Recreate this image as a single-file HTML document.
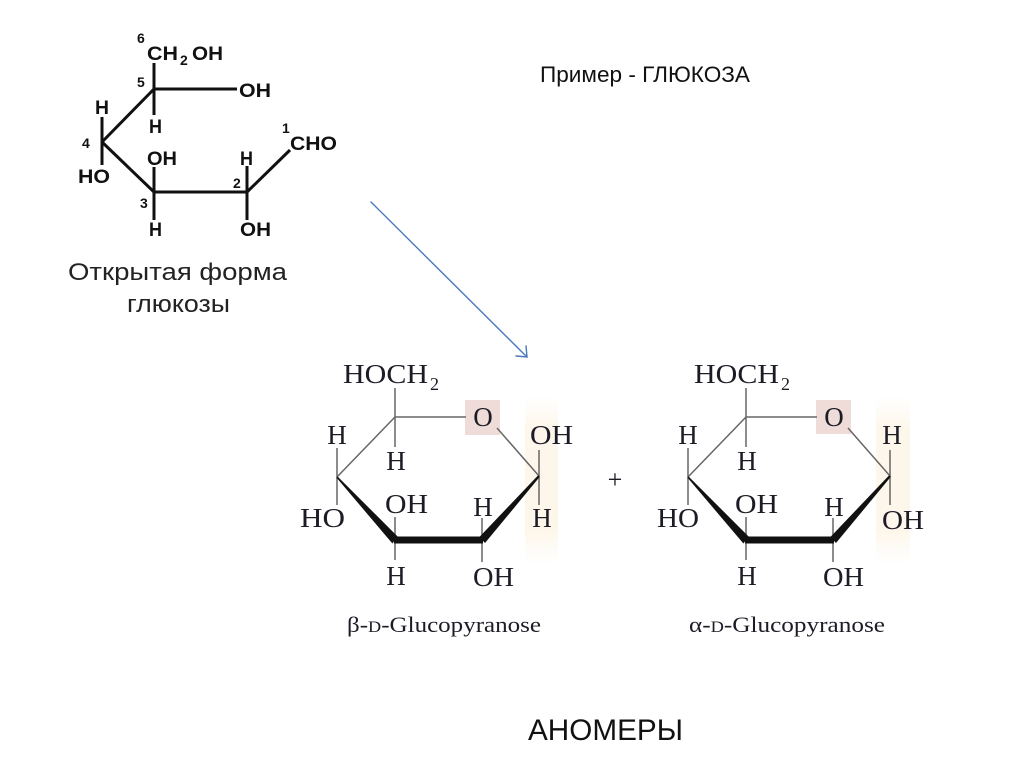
<!DOCTYPE html>
<html>
<head>
<meta charset="utf-8">
<style>
  html,body{margin:0;padding:0;background:#fff;}
  body{width:1024px;height:767px;overflow:hidden;}
  svg{display:block;}
  .sf{font-family:"Liberation Serif","DejaVu Serif",serif;fill:#1c1c26;}
  .bs{font-family:"Liberation Sans","DejaVu Sans",sans-serif;font-weight:bold;fill:#111;}
  .ss{font-family:"Liberation Sans","DejaVu Sans",sans-serif;}
</style>
</head>
<body>
<svg width="1024" height="767" viewBox="0 0 1024 767" xmlns="http://www.w3.org/2000/svg">
  <defs>
    <linearGradient id="beige" x1="0" y1="0" x2="0" y2="1">
      <stop offset="0" stop-color="#fefaf2" stop-opacity="0"/>
      <stop offset="0.2" stop-color="#fdf6ea"/>
      <stop offset="0.8" stop-color="#fdf6ea"/>
      <stop offset="1" stop-color="#fefaf2" stop-opacity="0"/>
    </linearGradient>
  </defs>

  <!-- ================= OPEN FORM ================= -->
  <g stroke="#111" stroke-width="3" stroke-linecap="butt" fill="none">
    <line x1="154" y1="63" x2="154" y2="115"/>
    <line x1="154" y1="89" x2="237" y2="89"/>
    <line x1="154" y1="89" x2="102" y2="142"/>
    <line x1="102" y1="117" x2="102" y2="165"/>
    <line x1="102" y1="142" x2="154" y2="192"/>
    <line x1="154" y1="167" x2="154" y2="220"/>
    <line x1="153" y1="192" x2="248" y2="192"/>
    <line x1="247" y1="166" x2="247" y2="220"/>
    <line x1="247" y1="192" x2="290" y2="150"/>
  </g>
  <g class="bs">
    <text x="137" y="43" font-size="14">6</text>
    <text x="147" y="60" font-size="19" textLength="31" lengthAdjust="spacingAndGlyphs">CH</text>
    <text x="180" y="65" font-size="14">2</text>
    <text x="192" y="60" font-size="19" textLength="31" lengthAdjust="spacingAndGlyphs">OH</text>
    <text x="137" y="87" font-size="14">5</text>
    <text x="239" y="97" font-size="19" textLength="32" lengthAdjust="spacingAndGlyphs">OH</text>
    <text x="149" y="133" font-size="19" textLength="13" lengthAdjust="spacingAndGlyphs">H</text>
    <text x="95" y="114" font-size="19" textLength="14" lengthAdjust="spacingAndGlyphs">H</text>
    <text x="82" y="148" font-size="14">4</text>
    <text x="78" y="183" font-size="19" textLength="32" lengthAdjust="spacingAndGlyphs">HO</text>
    <text x="147" y="165" font-size="19" textLength="30" lengthAdjust="spacingAndGlyphs">OH</text>
    <text x="140" y="208" font-size="14">3</text>
    <text x="149" y="236" font-size="19" textLength="13" lengthAdjust="spacingAndGlyphs">H</text>
    <text x="233" y="188" font-size="14">2</text>
    <text x="240" y="165" font-size="19" textLength="13" lengthAdjust="spacingAndGlyphs">H</text>
    <text x="240" y="236" font-size="19" textLength="31" lengthAdjust="spacingAndGlyphs">OH</text>
    <text x="282" y="133" font-size="14">1</text>
    <text x="290" y="150" font-size="19" textLength="47" lengthAdjust="spacingAndGlyphs">CHO</text>
  </g>
  <g class="ss" fill="#222" font-size="24">
    <text x="68" y="280" textLength="219" lengthAdjust="spacingAndGlyphs">Открытая форма</text>
    <text x="127" y="312" textLength="103" lengthAdjust="spacingAndGlyphs">глюкозы</text>
  </g>

  <!-- Title -->
  <text class="ss" x="540" y="82" font-size="22" fill="#111" textLength="210" lengthAdjust="spacingAndGlyphs">Пример - ГЛЮКОЗА</text>

  <!-- Arrow -->
  <g stroke="#4a78c0" stroke-width="1.4" fill="none" stroke-linecap="round">
    <line x1="371" y1="202" x2="527" y2="357"/>
    <polyline points="516,356 527,357 526,346"/>
  </g>

  <!-- ================= BETA ================= -->
  <g>
    <rect x="525" y="395" width="33" height="170" fill="url(#beige)"/>
    <rect x="465" y="400" width="35" height="35" fill="#efdcd8"/>
    <g stroke="#666" stroke-width="1.5" fill="none">
      <line x1="395" y1="388" x2="395" y2="447"/>
      <line x1="395" y1="417" x2="466" y2="417"/>
      <line x1="497" y1="428" x2="539" y2="476"/>
      <line x1="539" y1="450" x2="539" y2="505"/>
      <line x1="337" y1="477" x2="395" y2="417"/>
      <line x1="337" y1="448" x2="337" y2="505"/>
      <line x1="395" y1="517" x2="395" y2="560"/>
      <line x1="482" y1="518" x2="482" y2="562"/>
    </g>
    <g fill="#111">
      <polygon points="336.4,477.5 337.6,476.5 397.6,536.5 392.4,543.5"/>
      <rect x="394" y="536.5" width="89" height="7"/>
      <polygon points="479.4,537 485,543 539.8,476.8 538.2,475.2"/>
    </g>
    <g class="sf" font-size="27">
      <text x="343" y="383" textLength="85" lengthAdjust="spacingAndGlyphs">HOCH</text>
      <text x="430" y="390" font-size="18">2</text>
      <text x="483" y="426" text-anchor="middle">O</text>
      <text x="530" y="444" textLength="43" lengthAdjust="spacingAndGlyphs">OH</text>
      <text x="542" y="527" text-anchor="middle">H</text>
      <text x="337" y="444" text-anchor="middle">H</text>
      <text x="300" y="527" textLength="45" lengthAdjust="spacingAndGlyphs">HO</text>
      <text x="396" y="470" text-anchor="middle">H</text>
      <text x="385" y="513" textLength="43" lengthAdjust="spacingAndGlyphs">OH</text>
      <text x="483" y="516" text-anchor="middle">H</text>
      <text x="396" y="585" text-anchor="middle">H</text>
      <text x="473" y="586" textLength="41" lengthAdjust="spacingAndGlyphs">OH</text>
    </g>
    <text class="sf" x="347" y="632" font-size="22" fill="#3a3a3a" textLength="194" lengthAdjust="spacingAndGlyphs">β-<tspan font-size="16">D</tspan>-Glucopyranose</text>
  </g>

  <!-- plus -->
  <text class="sf" x="615" y="488" font-size="26" text-anchor="middle" fill="#333">+</text>

  <!-- ================= ALPHA ================= -->
  <g transform="translate(351,0)">
    <rect x="525" y="395" width="34" height="170" fill="url(#beige)"/>
    <rect x="465" y="400" width="35" height="34" fill="#efdcd8"/>
    <g stroke="#666" stroke-width="1.5" fill="none">
      <line x1="395" y1="388" x2="395" y2="447"/>
      <line x1="395" y1="417" x2="466" y2="417"/>
      <line x1="497" y1="428" x2="539" y2="476"/>
      <line x1="539" y1="450" x2="539" y2="505"/>
      <line x1="337" y1="477" x2="395" y2="417"/>
      <line x1="337" y1="448" x2="337" y2="505"/>
      <line x1="395" y1="517" x2="395" y2="560"/>
      <line x1="482" y1="518" x2="482" y2="562"/>
    </g>
    <g fill="#111">
      <polygon points="336.4,477.5 337.6,476.5 397.6,536.5 392.4,543.5"/>
      <rect x="394" y="536.5" width="89" height="7"/>
      <polygon points="479.4,537 485,543 539.8,476.8 538.2,475.2"/>
    </g>
    <g class="sf" font-size="27">
      <text x="343" y="383" textLength="85" lengthAdjust="spacingAndGlyphs">HOCH</text>
      <text x="430" y="390" font-size="18">2</text>
      <text x="483" y="426" text-anchor="middle">O</text>
      <text x="541" y="444" text-anchor="middle">H</text>
      <text x="531" y="529" textLength="42" lengthAdjust="spacingAndGlyphs">OH</text>
      <text x="337" y="444" text-anchor="middle">H</text>
      <text x="306" y="527" textLength="42" lengthAdjust="spacingAndGlyphs">HO</text>
      <text x="396" y="470" text-anchor="middle">H</text>
      <text x="384" y="513" textLength="43" lengthAdjust="spacingAndGlyphs">OH</text>
      <text x="483" y="516" text-anchor="middle">H</text>
      <text x="396" y="585" text-anchor="middle">H</text>
      <text x="472" y="586" textLength="41" lengthAdjust="spacingAndGlyphs">OH</text>
    </g>
  </g>
  <text class="sf" x="689" y="632" font-size="22" fill="#3a3a3a" textLength="196" lengthAdjust="spacingAndGlyphs">α-<tspan font-size="16">D</tspan>-Glucopyranose</text>

  <!-- Bottom caption -->
  <text class="ss" x="528" y="740" font-size="30" fill="#111" textLength="155" lengthAdjust="spacingAndGlyphs">АНОМЕРЫ</text>
</svg>
</body>
</html>
